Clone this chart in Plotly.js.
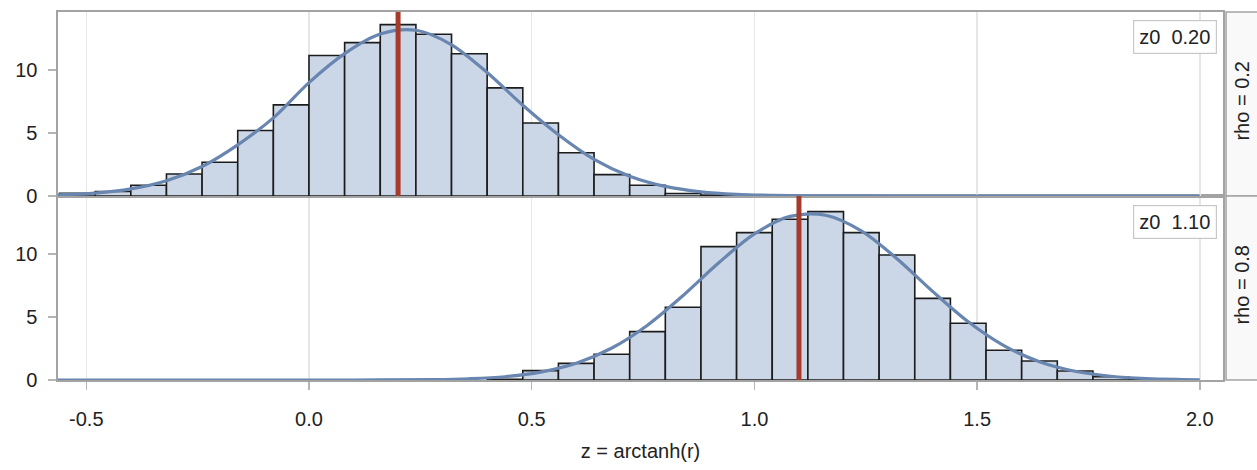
<!DOCTYPE html>
<html>
<head>
<meta charset="utf-8">
<script src="https://cdn.plot.ly/plotly-3.0.1.min.js"></script>
<style>html,body{margin:0;padding:0;background:#fff;}#chart{width:1257px;height:470px;}</style>
</head>
<body>
<div id="chart"></div>
<script>
// ---- data ----
const binWidth = 0.08;

// Panel rho = 0.2
const topBinCenters = [-0.52,-0.44,-0.36,-0.28,-0.20,-0.12,-0.04,0.04,0.12,0.20,0.28,0.36,0.44,0.52,0.60,0.68,0.76,0.84,0.92];
const topPercent    = [0.22,0.36,0.85,1.75,2.68,5.2,7.23,11.15,12.17,13.6,12.83,11.29,8.58,5.79,3.43,1.70,0.85,0.2,0.05];
const topCurveX = [-0.57,-0.48,-0.40,-0.32,-0.24,-0.16,-0.08,0,0.08,0.16,0.24,0.32,0.40,0.48,0.56,0.64,0.72,0.80,0.88,0.96,1.04,1.12,1.30,1.60,2.00];
const topCurveY = [0.08,0.23,0.56,1.21,2.34,4.06,6.2,9.0,11.3,12.85,13.15,12.0,9.8,7.2,4.86,2.91,1.57,0.76,0.33,0.13,0.05,0.02,0,0,0];
const topZ0 = 0.20;
const topLabel = "z0  0.20";
const topStrip = "rho = 0.2";

// Panel rho = 0.8
const botBinCenters = [0.44,0.52,0.60,0.68,0.76,0.84,0.92,1.00,1.08,1.16,1.24,1.32,1.40,1.48,1.56,1.64,1.72,1.80,1.88];
const botPercent    = [0.06,0.74,1.32,2.04,3.84,5.77,10.58,11.69,12.75,13.36,11.69,9.92,6.48,4.5,2.36,1.51,0.71,0.26,0.1];
const botCurveX = [-0.57,-0.20,0.10,0.28,0.36,0.44,0.52,0.60,0.68,0.76,0.84,0.92,1.00,1.08,1.16,1.24,1.32,1.40,1.48,1.56,1.64,1.72,1.80,1.88,1.96,2.00];
const botCurveY = [0,0,0,0.03,0.10,0.26,0.63,1.33,2.54,4.35,6.71,9.30,11.59,12.98,13.07,11.83,9.62,7.03,4.62,2.73,1.45,0.69,0.30,0.11,0.04,0.02];
const botZ0 = 1.10;
const botLabel = "z0  1.10";
const botStrip = "rho = 0.8";

const xTickVals = [-0.5,0.0,0.5,1.0,1.5,2.0];
const xTickText = ["-0.5","0.0","0.5","1.0","1.5","2.0"];
const yTickVals = [0,5,10];
const yTickText = ["0","5","10"];
const xTitle = "z = arctanh(r)";

// ---- styles ----
const barFill = "#cbd6e6", barEdge = "#1c1c1c", curveCol = "#6986b0", refCol = "#a63a2b";
const frameCol = "#a3a3a3", gridCol = "#e6e6e6", txtCol = "#222";
const font = "Liberation Sans, Arial, sans-serif";

function barTrace(x, y, xa, ya){
  return {type:"bar", x:x, y:y, width:binWidth, xaxis:xa, yaxis:ya,
    marker:{color:barFill, line:{color:barEdge, width:1.6}}, hoverinfo:"x+y", showlegend:false};
}
function curveTrace(x, y, xa, ya){
  return {type:"scatter", mode:"lines", x:x, y:y, xaxis:xa, yaxis:ya,
    line:{color:curveCol, width:3.2, shape:"spline", smoothing:0.9}, showlegend:false, hoverinfo:"skip"};
}

const data = [
  barTrace(topBinCenters, topPercent, "x2", "y2"),
  curveTrace(topCurveX, topCurveY, "x2", "y2"),
  barTrace(botBinCenters, botPercent, "x", "y"),
  curveTrace(botCurveX, botCurveY, "x", "y")
];

const xRange = [-0.5635, 2.052];
const yRange = [0, 14.6];

const xCommon = {range:xRange, tickvals:xTickVals, ticktext:xTickText, showgrid:true, gridcolor:gridCol, gridwidth:1.5,
  zeroline:false, showline:true, mirror:true, linecolor:frameCol, linewidth:1.6};
const yCommon = {range:yRange, tickvals:yTickVals, ticktext:yTickText, showgrid:false, zeroline:false,
  showline:true, mirror:true, linecolor:frameCol, linewidth:1.6,
  ticks:"outside", ticklen:8, tickwidth:1.5, tickcolor:"#b5b5b5", ticklabelstandoff:7,
  tickfont:{family:font, size:20, color:txtCol}};

const layout = {
  width:1257, height:470,
  margin:{l:58, r:34, t:12, b:90},
  paper_bgcolor:"#fff", plot_bgcolor:"#fff",
  bargap:0, showlegend:false,
  font:{family:font, color:txtCol},
  xaxis: Object.assign({}, xCommon, {anchor:"y", ticks:"outside", ticklen:8, tickwidth:1.5, tickcolor:"#b5b5b5",
    ticklabelstandoff:12, tickfont:{family:font, size:20, color:txtCol},
    title:{text:xTitle, font:{family:font, size:20, color:txtCol}, standoff:15}}),
  xaxis2: Object.assign({}, xCommon, {anchor:"y2", matches:"x", showticklabels:false, ticks:""}),
  yaxis: Object.assign({}, yCommon, {domain:[0,0.5], anchor:"x"}),
  yaxis2: Object.assign({}, yCommon, {domain:[0.5,1], anchor:"x2"}),
  shapes:[
    {type:"line", xref:"x2", yref:"y2 domain", x0:topZ0, x1:topZ0, y0:0, y1:1, line:{color:refCol, width:5}, layer:"above"},
    {type:"line", xref:"x", yref:"y domain", x0:botZ0, x1:botZ0, y0:0, y1:1, line:{color:refCol, width:5}, layer:"above"},
    {type:"rect", xref:"paper", yref:"paper", x0:1.0026, x1:1.03, y0:0.5, y1:1, fillcolor:"#f9f9f9", line:{color:frameCol, width:1.5}, layer:"below"},
    {type:"rect", xref:"paper", yref:"paper", x0:1.0026, x1:1.03, y0:0, y1:0.5, fillcolor:"#f9f9f9", line:{color:frameCol, width:1.5}, layer:"below"}
  ],
  annotations:[
    {text:topLabel, xref:"paper", yref:"paper", x:0.9948, y:0.978, xanchor:"right", yanchor:"top", showarrow:false,
     font:{family:font, size:20, color:txtCol}, bgcolor:"#fff", bordercolor:"#c8c8c8", borderwidth:1.2, borderpad:5},
    {text:botLabel, xref:"paper", yref:"paper", x:0.9948, y:0.4755, xanchor:"right", yanchor:"top", showarrow:false,
     font:{family:font, size:20, color:txtCol}, bgcolor:"#fff", bordercolor:"#c8c8c8", borderwidth:1.2, borderpad:5},
    {text:topStrip, xref:"paper", yref:"paper", x:1.0165, y:0.76, xanchor:"center", yanchor:"middle", textangle:-90, showarrow:false,
     font:{family:font, size:20, color:txtCol}},
    {text:botStrip, xref:"paper", yref:"paper", x:1.0165, y:0.26, xanchor:"center", yanchor:"middle", textangle:-90, showarrow:false,
     font:{family:font, size:20, color:txtCol}}
  ]
};

Plotly.newPlot("chart", data, layout, {displayModeBar:false, staticPlot:true});
</script>
</body>
</html>
